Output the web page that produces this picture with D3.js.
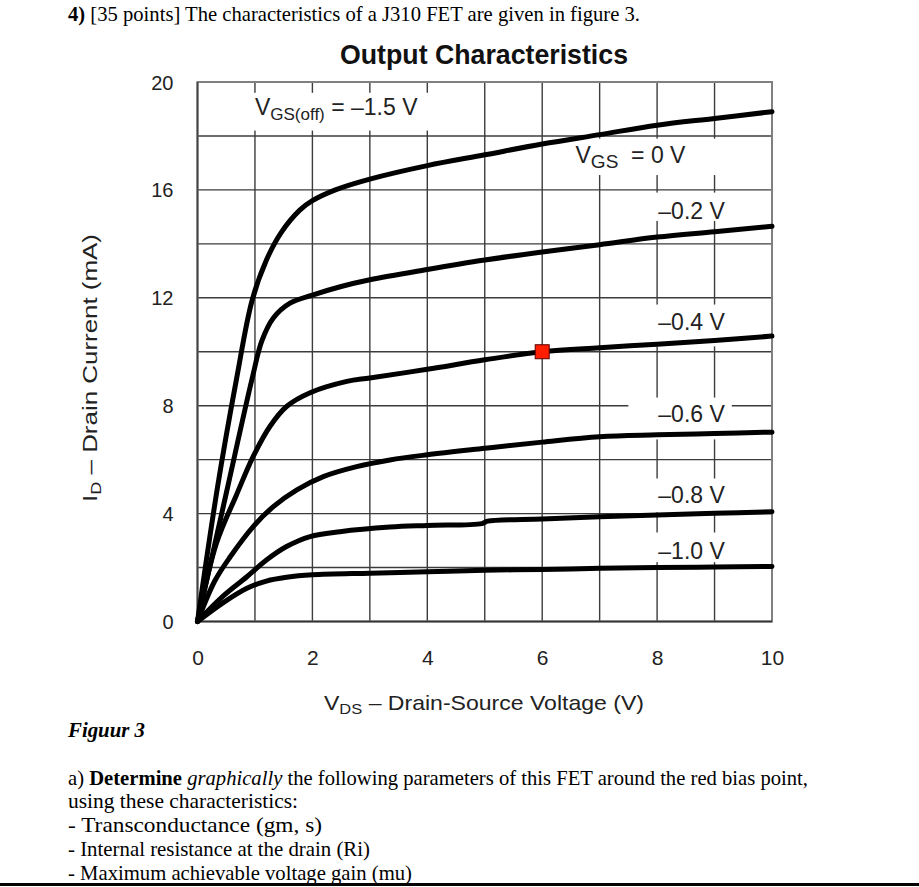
<!DOCTYPE html>
<html><head><meta charset="utf-8">
<script src="https://cdn.jsdelivr.net/npm/d3@7"></script>
<style>body{margin:0;background:#fff}</style>
</head><body><svg id="c" width="919" height="887"></svg>
<script>
// ---- data ----
const xTicks = [0, 2, 4, 6, 8, 10];
const yTicks = [0, 4, 8, 12, 16, 20];
const curveLabels = ["VGS = 0 V", "–0.2 V", "–0.4 V", "–0.6 V", "–0.8 V", "–1.0 V"];
const vgs0   = [[0,0],[0.35,5.0],[0.68,9.0],[0.95,11.9],[1.2,13.4],[1.45,14.4],[1.78,15.25],[2.0,15.6],[2.4,16.0],[3,16.4],[4,16.9],[5,17.3],[6,17.7],[7,18.05],[8,18.4],[9,18.65],[10,18.9]];
const vgsM02 = [[0,0],[0.5,4.75],[0.95,9.0],[1.12,10.4],[1.32,11.25],[1.61,11.8],[2.0,12.1],[2.5,12.42],[3,12.67],[4,13.05],[5,13.4],[6,13.7],[7,13.97],[8,14.25],[9,14.45],[10,14.65]];
const vgsM04 = [[0,0],[0.33,2.9],[0.68,4.7],[0.97,6.12],[1.26,7.23],[1.55,7.97],[1.96,8.48],[2.6,8.9],[3,9.03],[4,9.35],[5,9.7],[6,10.0],[7,10.15],[8,10.28],[9,10.42],[10,10.58]];
const vgsM06 = [[0,0],[0.3,1.5],[0.57,2.4],[0.97,3.52],[1.32,4.26],[1.73,4.88],[2.19,5.37],[2.77,5.74],[3.35,5.99],[4,6.18],[5,6.42],[6,6.65],[7,6.85],[8,6.92],[9,6.97],[10,7.02]];
const vgsM08 = [[0,0],[0.45,0.95],[0.86,1.66],[1.2,2.28],[1.55,2.78],[1.96,3.15],[2.48,3.33],[3.35,3.5],[4,3.56],[4.95,3.63],[5.05,3.72],[6,3.8],[7,3.88],[8,3.95],[9,4.01],[10,4.07]];
const vgsM10 = [[0,0],[0.45,0.7],[0.86,1.23],[1.2,1.5],[1.55,1.64],[2,1.73],[3,1.79],[4,1.84],[5,1.9],[6,1.93],[7,1.97],[8,2.0],[9,2.02],[10,2.04]];
const curves = [vgs0, vgsM02, vgsM04, vgsM06, vgsM08, vgsM10];
const biasPoint = [6, 10];
// label boxes in data units [v0, v1, iTop, iBottom]
const labelBoxes = [[0.03,4.8,19.6,18.2],[6.85,9.9,17.9,16.55],[7.5,9.9,15.9,14.85],[7.5,9.9,11.75,10.2],[7.5,9.3,8.3,6.75],[7.5,9.9,5.3,4.05],[7.5,9.9,3.3,2.2]];

// ---- drawing ----
const svg = d3.select("#c");
const x = d3.scaleLinear().domain([0, 10]).range([197.5, 772]);
const y = d3.scaleLinear().domain([0, 20]).range([621.5, 82]);
const SANS = "'Liberation Sans', Arial, Helvetica, sans-serif";
const SERIF = "'Liberation Serif', 'Times New Roman', serif";

// header text
const h = svg.append("text").attr("x", 68).attr("y", 21).attr("font-family", SERIF).attr("font-size", 22)
  .attr("textLength", 572).attr("lengthAdjust", "spacingAndGlyphs");
h.append("tspan").attr("font-weight", "bold").text("4)");
h.append("tspan").text(" [35 points] The characteristics of a J310 FET are given in figure 3.");

// title
svg.append("text").attr("x", 484).attr("y", 64).attr("text-anchor", "middle")
  .attr("font-family", SANS).attr("font-weight", "bold").attr("font-size", 27).attr("fill", "#111")
  .attr("textLength", 288).attr("lengthAdjust", "spacingAndGlyphs").text("Output Characteristics");

// grid
const g = svg.append("g");
g.selectAll("line.v").data(d3.range(0, 11)).enter().append("line")
  .attr("x1", d => x(d)).attr("x2", d => x(d)).attr("y1", y(0)).attr("y2", y(20))
  .attr("stroke", "#3c3c3c").attr("stroke-width", 1.4);
g.selectAll("line.h").data(d3.range(0, 21, 2)).enter().append("line")
  .attr("x1", x(0)).attr("x2", x(10)).attr("y1", d => y(d)).attr("y2", d => y(d))
  .attr("stroke", "#3c3c3c").attr("stroke-width", 1.4);

// label boxes (white, hiding the grid)
g.selectAll("rect.lb").data(labelBoxes).enter().append("rect")
  .attr("x", d => x(d[0])).attr("width", d => x(d[1]) - x(d[0]))
  .attr("y", d => y(d[2])).attr("height", d => y(d[3]) - y(d[2])).attr("fill", "#fff");

// frame
g.append("rect").attr("x", x(0)).attr("y", y(20)).attr("width", x(10) - x(0)).attr("height", y(0) - y(20))
  .attr("fill", "none").attr("stroke", "#808080").attr("stroke-width", 2);
g.append("line").attr("x1", x(0)).attr("x2", x(0)).attr("y1", y(0)).attr("y2", y(20)).attr("stroke", "#444").attr("stroke-width", 1.6);
g.append("line").attr("x1", x(0)).attr("x2", x(10)).attr("y1", y(0)).attr("y2", y(0)).attr("stroke", "#333").attr("stroke-width", 1.6);

// axes
const xa = svg.append("g").attr("transform", `translate(0,${y(0) + 29})`)
  .call(d3.axisBottom(x).tickValues(xTicks).tickSize(0).tickPadding(0).tickFormat(d3.format("d")));
xa.select(".domain").remove();
xa.selectAll("text").attr("font-family", SANS).attr("font-size", 21).attr("fill", "#222");
const ya = svg.append("g").attr("transform", `translate(${x(0) - 24},0)`)
  .call(d3.axisLeft(y).tickValues(yTicks).tickSize(0).tickPadding(0).tickFormat(d3.format("d")));
ya.select(".domain").remove();
ya.selectAll("text").attr("font-family", SANS).attr("font-size", 20).attr("fill", "#222").attr("dy", "0.35em");

// axis titles
const xt = svg.append("text").attr("x", 484).attr("y", 710).attr("text-anchor", "middle")
  .attr("font-family", SANS).attr("font-size", 21).attr("fill", "#222")
  .attr("textLength", 320).attr("lengthAdjust", "spacingAndGlyphs");
xt.append("tspan").text("V");
xt.append("tspan").attr("font-size", 15).attr("dy", 4).text("DS");
xt.append("tspan").attr("dy", -4).text(" – Drain-Source Voltage (V)");

const yt = svg.append("text").attr("transform", "translate(97,368) rotate(-90)").attr("text-anchor", "middle")
  .attr("font-family", SANS).attr("font-size", 20).attr("fill", "#222")
  .attr("textLength", 268).attr("lengthAdjust", "spacingAndGlyphs");
yt.append("tspan").text("I");
yt.append("tspan").attr("font-size", 14).attr("dy", 4).text("D");
yt.append("tspan").attr("dy", -4).text(" – Drain Current (mA)");

// in-plot labels
const t0 = svg.append("text").attr("x", x(1)).attr("y", y(19.05) + 7).attr("font-family", SANS).attr("font-size", 23).attr("fill", "#222");
t0.append("tspan").text("V");
t0.append("tspan").attr("font-size", 17).attr("dy", 5).text("GS(off)");
t0.append("tspan").attr("dy", -5).text("\u00a0= –1.5 V");

const t1 = svg.append("text").attr("x", x(6.58)).attr("y", y(17.25) + 7).attr("font-family", SANS).attr("font-size", 23).attr("fill", "#222");
t1.append("tspan").text("V");
t1.append("tspan").attr("font-size", 19).attr("dy", 5).text("GS");
t1.append("tspan").attr("dy", -5).text("\u00a0\u00a0= 0 V");

const otherLabelPos = [[8.6,15.2],[8.6,11.1],[8.6,7.68],[8.6,4.7],[8.6,2.62]];
svg.selectAll("text.cl").data(curveLabels.slice(1)).enter().append("text")
  .attr("x", (d, i) => x(otherLabelPos[i][0])).attr("y", (d, i) => y(otherLabelPos[i][1]) + 8)
  .attr("text-anchor", "middle").attr("font-family", SANS).attr("font-size", 23).attr("fill", "#222")
  .text(d => d);

// curves
const line = d3.line().x(d => x(d[0])).y(d => y(d[1])).curve(d3.curveCatmullRom.alpha(0.5));
svg.selectAll("path.curve").data(curves).enter().append("path")
  .attr("d", line).attr("fill", "none").attr("stroke", "#000").attr("stroke-width", 5)
  .attr("stroke-linecap", "round").attr("stroke-linejoin", "round");

// bias point
svg.append("rect").attr("x", x(biasPoint[0]) - 7).attr("y", y(biasPoint[1]) - 7).attr("width", 14).attr("height", 14)
  .attr("fill", "#ff1e00").attr("stroke", "#5a0000").attr("stroke-width", 1);

// bottom text
svg.append("text").attr("x", 68).attr("y", 737).attr("font-family", SERIF).attr("font-size", 21)
  .attr("font-weight", "bold").attr("font-style", "italic").attr("textLength", 77).attr("lengthAdjust", "spacingAndGlyphs").text("Figuur 3");
const a = svg.append("text").attr("x", 68).attr("y", 785).attr("font-family", SERIF).attr("font-size", 22)
  .attr("textLength", 740).attr("lengthAdjust", "spacingAndGlyphs");
a.append("tspan").text("a) ");
a.append("tspan").attr("font-weight", "bold").text("Determine");
a.append("tspan").text(" ");
a.append("tspan").attr("font-style", "italic").text("graphically");
a.append("tspan").text(" the following parameters of this FET around the red bias point,");
const lines = [["using these characteristics:", 808, 230], ["- Transconductance (gm, s)", 832, 254], ["- Internal resistance at the drain (Ri)", 856, 302], ["- Maximum achievable voltage gain (mu)", 880, 344]];
svg.selectAll("text.bl").data(lines).enter().append("text")
  .attr("x", 68).attr("y", d => d[1]).attr("font-family", SERIF).attr("font-size", 22)
  .attr("textLength", d => d[2]).attr("lengthAdjust", "spacingAndGlyphs").text(d => d[0]);
svg.append("rect").attr("x", 0).attr("y", 883).attr("width", 919).attr("height", 3).attr("fill", "#000");
</script>
</body></html>
